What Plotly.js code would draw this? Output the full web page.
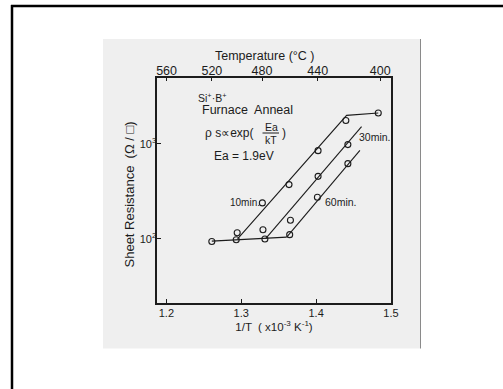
<!DOCTYPE html>
<html>
<head>
<meta charset="utf-8">
<script src="https://cdn.plot.ly/plotly-3.0.1.min.js"></script>
<style>
  html, body { margin: 0; padding: 0; background: #fff; }
  #chart { width: 503px; height: 389px; }
</style>
</head>
<body>
<div id="chart"></div>
<script>
// Measured sheet resistance (ohm/sq) against 1/T (x1e-3 K^-1), per anneal time
const min10X = [1.2607, 1.2946, 1.3282, 1.3638, 1.4026, 1.4397, 1.4830];
const min10Y = [94, 116, 239, 372, 845, 1750, 2100];
const min30X = [1.2933, 1.3290, 1.4026, 1.4424];
const min30Y = [98, 125, 454, 977];
const min60X = [1.3316, 1.3647, 1.3657, 1.4017, 1.4424];
const min60Y = [100, 111, 157, 274, 617];

// Fitted lines: common low-resistance plateau and the three activated branches
const baseX = [1.2607, 1.3607];
const baseY = [95, 104.5];
const fit10X = [1.2951, 1.4407, 1.4830];
const fit10Y = [100, 1980, 2100];
const fit30X = [1.3326, 1.4607];
const fit30Y = [100.7, 1513];
const fit60X = [1.3607, 1.4585];
const fit60Y = [104.5, 851];

// Axis ticks
const invTTicks = [1.2, 1.3, 1.4, 1.5];
const invTLabels = ['1.2', '1.3', '1.4', '1.5'];
const tempC = [560, 520, 480, 440, 400];
const rsTicks = [100, 1000];
const rsLabels = ['10<sup>2</sup>', '10<sup>3</sup>'];

// Layout geometry (pixels)
const W = 503, H = 389;
const M = { l: 157, r: 112, t: 78, b: 86 };
const PW = W - M.l - M.r, PH = H - M.t - M.b;
const px = x => (x - M.l) / PW;
const py = y => (M.t + PH - y) / PH;

const INK = '#1c1c1c';
const FONT = 'Liberation Sans, Arial, sans-serif';

const lineStyle = { color: INK, width: 1.1 };
const markerStyle = { symbol: 'circle-open', size: 6, color: INK, line: { width: 1.1, color: INK } };

const traces = [
  { x: baseX, y: baseY, mode: 'lines', line: lineStyle, name: 'plateau' },
  { x: fit10X, y: fit10Y, mode: 'lines', line: lineStyle, name: '10 min fit' },
  { x: fit30X, y: fit30Y, mode: 'lines', line: lineStyle, name: '30 min fit' },
  { x: fit60X, y: fit60Y, mode: 'lines', line: lineStyle, name: '60 min fit' },
  { x: min10X, y: min10Y, mode: 'markers', marker: markerStyle, name: '10min.' },
  { x: min30X, y: min30Y, mode: 'markers', marker: markerStyle, name: '30min.' },
  { x: min60X, y: min60Y, mode: 'markers', marker: markerStyle, name: '60min.' },
  // invisible trace that carries the temperature axis
  { x: tempC.map(t => 1000 / (t + 273.15)), y: [null, null, null, null, null], xaxis: 'x2', mode: 'markers', showlegend: false, hoverinfo: 'skip' }
];

const xRange = [1.1875, 1.5];

const txt = (text, x, y, size, xanchor, angle) => ({
  text, x: px(x), y: py(y), xref: 'paper', yref: 'paper',
  xanchor: xanchor || 'left', yanchor: 'middle', showarrow: false,
  textangle: angle || 0,
  font: { family: FONT, size: size || 11, color: INK }
});

const layout = {
  width: W, height: H,
  margin: M,
  paper_bgcolor: '#ffffff',
  plot_bgcolor: 'rgba(0,0,0,0)',
  showlegend: false,
  font: { family: FONT, size: 11, color: INK },
  xaxis: {
    range: xRange, tickvals: invTTicks, ticktext: invTLabels,
    ticks: 'inside', ticklen: 4, tickcolor: INK, tickwidth: 1,
    showline: true, linecolor: INK, linewidth: 1.6, mirror: false,
    showgrid: false, zeroline: false,
    tickfont: { family: FONT, size: 11, color: INK },
    ticklabelstandoff: -1,
    title: { text: '1/T  ( x10<sup>-3</sup> K<sup>-1</sup>)', font: { family: FONT, size: 11.5, color: INK }, standoff: 4 }
  },
  xaxis2: {
    overlaying: 'x', side: 'top', range: xRange,
    tickvals: tempC.map(t => 1000 / (t + 273.15)), ticktext: tempC.map(String),
    ticks: 'inside', ticklen: 3, tickcolor: INK,
    showline: true, linecolor: INK, linewidth: 1.6,
    showgrid: false, zeroline: false,
    tickfont: { family: FONT, size: 12.5, color: INK },
    ticklabelstandoff: -4
  },
  yaxis: {
    type: 'log', range: [1.328, 3.689],
    tickvals: rsTicks, ticktext: rsLabels,
    ticks: 'inside', ticklen: 4, tickcolor: INK,
    showline: true, linecolor: INK, linewidth: 1.6, mirror: true,
    showgrid: false, zeroline: false,
    tickfont: { family: FONT, size: 11, color: INK },
    ticklabelstandoff: -3
  },
  shapes: [
    // scanned-page panel
    { type: 'rect', xref: 'paper', yref: 'paper', layer: 'below',
      x0: px(103), x1: px(420.5), y0: py(348.5), y1: py(39),
      fillcolor: '#efefef', line: { width: 0 } },
    { type: 'line', xref: 'paper', yref: 'paper', layer: 'below',
      x0: px(420.5), x1: px(420.5), y0: py(348.5), y1: py(39),
      line: { color: '#8a8a8a', width: 1 } },
    // outer frame
    { type: 'line', xref: 'paper', yref: 'paper',
      x0: px(11), x1: px(505), y0: py(6), y1: py(6), line: { color: '#000', width: 2.5 } },
    { type: 'line', xref: 'paper', yref: 'paper',
      x0: px(12), x1: px(12), y0: py(5), y1: py(392), line: { color: '#000', width: 2.5 } },
    // fraction bar of Ea/kT
    { type: 'line', xref: 'paper', yref: 'paper',
      x0: px(262.5), x1: px(279), y0: py(133), y1: py(133), line: { color: INK, width: 1 } }
  ],
  annotations: [
    // axis titles
    txt('Temperature (°C )', 264, 56, 12.5, 'center'),
    txt('Sheet Resistance  (Ω / □)', 128.5, 195, 13, 'center', -90),
    // in-plot notes
    txt('Si<sup>+</sup>·B<sup>+</sup>', 196, 97, 10.5),
    txt('Furnace  Anneal', 200, 110, 12.5),
    txt('ρ s∝exp(', 203, 133, 12),
    txt('Ea', 271, 127, 10.5, 'center'),
    txt('kT', 271, 140, 10.5, 'center'),
    txt(')', 279.5, 133, 12),
    txt('Ea = 1.9eV', 212, 156, 12),
    txt('10min.', 228, 202, 10),
    txt('30min.', 357, 137, 10.5),
    txt('60min.', 323, 202, 10.5)
  ]
};

Plotly.newPlot('chart', traces, layout, { displayModeBar: false, staticPlot: true });
</script>
</body>
</html>
